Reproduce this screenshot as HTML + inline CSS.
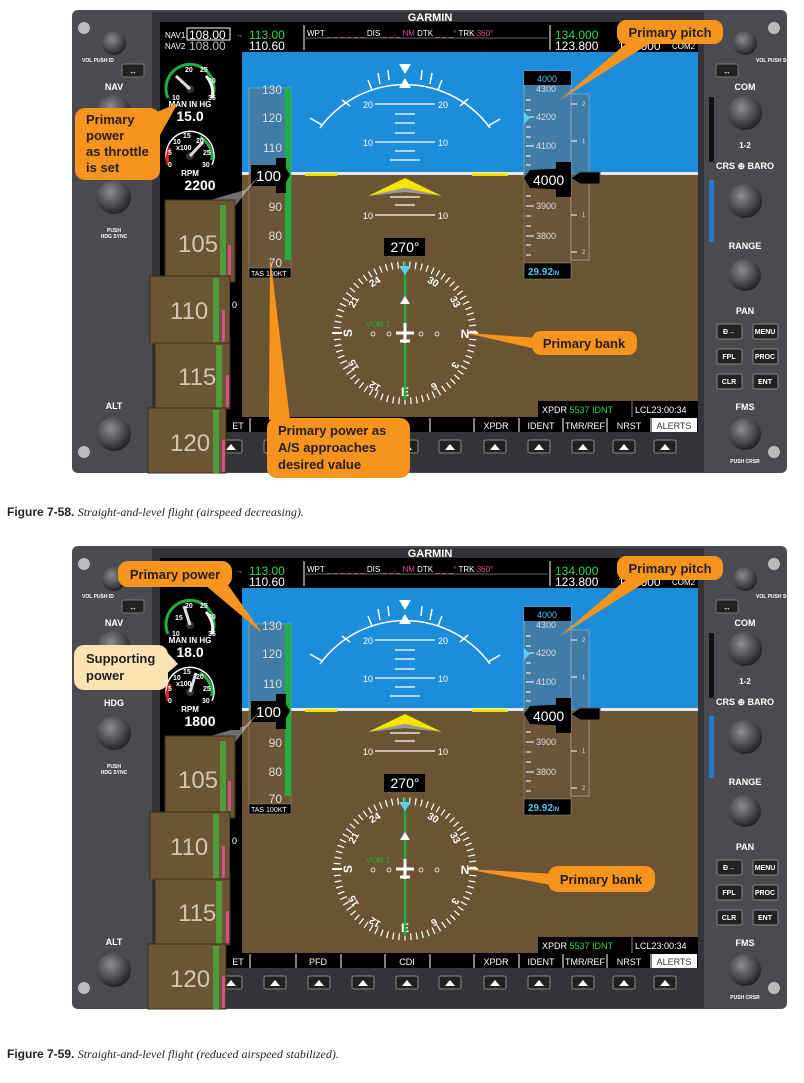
<!DOCTYPE html>
<html><head><meta charset="utf-8"><style>
body{margin:0;background:#fff;width:804px;height:1083px;overflow:hidden}
svg{display:block}
text{font-family:"Liberation Sans",sans-serif}
.lb{font-weight:bold;fill:#fff}
.co{font-size:13px;font-weight:bold;fill:#231f20}
.cap{font-size:12px;fill:#231f20}
</style></head><body>
<svg width="804" height="1083" viewBox="0 0 804 1083">
<defs>
<radialGradient id="kn" cx="40%" cy="35%" r="70%"><stop offset="0" stop-color="#8a8c90"/><stop offset="1" stop-color="#1c1d1f"/></radialGradient>
</defs>

<!-- PANEL 1 -->
<g id="p1">
<rect x="72" y="10" width="715" height="463" rx="6" fill="#4a4b4e"/>
<rect x="152" y="12" width="552" height="460" fill="#333437"/>
<rect x="160" y="22" width="538" height="410" fill="#000"/>
<text x="430" y="21" font-size="11" font-weight="bold" fill="#fff" text-anchor="middle">GARMIN</text>
<text x="165" y="38" font-size="8" fill="#fff">NAV1</text><rect x="187" y="28" width="43" height="12" fill="none" stroke="#fff" stroke-width="1"/><text x="189" y="39" font-size="12" fill="#fff">108.00</text>
<text x="165" y="49" font-size="8" fill="#fff">NAV2</text><text x="189" y="50" font-size="12" fill="#bbb">108.00</text>
<text x="236" y="37" font-size="7" fill="#4fc3f7">↔</text>
<text x="249" y="39" font-size="12" fill="#2bd35a">113.00</text><text x="249" y="50" font-size="12" fill="#fff">110.60</text>
<line x1="304" y1="25" x2="304" y2="50" stroke="#fff"/><line x1="304" y1="38" x2="548" y2="38" stroke="#666"/>
<text x="307" y="36" font-size="8" fill="#fff">WPT <tspan fill="#e0489a">_ _ _ _ _ _</tspan> DIS <tspan fill="#e0489a">_ _._ NM</tspan>   DTK <tspan fill="#e0489a">_ _ _°</tspan>   TRK  <tspan fill="#e0489a">360°</tspan></text>
<line x1="550" y1="25" x2="550" y2="50" stroke="#fff"/>
<text x="555" y="39" font-size="12" fill="#2bd35a">134.000</text><text x="555" y="50" font-size="12" fill="#fff">123.800</text>
<text x="618" y="50" font-size="12" fill="#fff">118.000</text><text x="672" y="49" font-size="8" fill="#fff">COM2</text>
<rect x="242" y="52" width="456" height="122" fill="#1b8ddb"/>
<rect x="242" y="174" width="456" height="243" fill="#6b5433"/>
<rect x="242" y="172" width="456" height="3" fill="#e8e8e8"/>
<path d="M320 128 A105 105 0 0 1 490 128" fill="none" stroke="#fff" stroke-width="1.5"/>
<path d="M310 118 L322 125 M488 126 L500 119 M342 100 L350 106 M460 106 L468 99 M368 80 L372 90 M438 90 L442 80 M378 73 L380 84 M430 84 L432 73 M388 70 L389 80 M421 80 L422 70" stroke="#fff" stroke-width="1.5"/>
<polygon points="399,64 411,64 405,74" fill="#fff"/><polygon points="399,88 411,88 405,78" fill="#fff"/>
<g stroke="#fff" stroke-width="1.2">
<line x1="375" y1="104" x2="435" y2="104"/><line x1="395" y1="114" x2="415" y2="114"/><line x1="395" y1="123" x2="415" y2="123"/><line x1="395" y1="133" x2="415" y2="133"/>
<line x1="375" y1="142" x2="435" y2="142"/><line x1="395" y1="151" x2="415" y2="151"/><line x1="390" y1="160" x2="420" y2="160"/>
<line x1="390" y1="197" x2="420" y2="197"/><line x1="395" y1="205" x2="415" y2="205"/><line x1="375" y1="215" x2="435" y2="215"/></g>
<text x="363" y="108" font-size="9" fill="#fff">20</text><text x="438" y="108" font-size="9" fill="#fff">20</text>
<text x="363" y="146" font-size="9" fill="#fff">10</text><text x="438" y="146" font-size="9" fill="#fff">10</text>
<text x="363" y="219" font-size="9" fill="#fff">10</text><text x="438" y="219" font-size="9" fill="#fff">10</text>
<polygon points="368,196 405,178 442,196 405,188" fill="#f4e400"/><polygon points="368,196 405,188 442,196 405,192" fill="#999"/>
<rect x="305" y="173" width="32" height="3" fill="#f4e400"/><rect x="472" y="173" width="36" height="3" fill="#f4e400"/>
<rect x="249" y="88" width="42" height="86" fill="#3f7ca6" stroke="#8aa" stroke-width="0.8"/>
<rect x="249" y="174" width="42" height="94" fill="#6a5538" stroke="#8a7a60" stroke-width="0.8"/>
<rect x="285" y="88" width="6" height="172" fill="#1fb040"/>
<g font-size="12" fill="#ddd" text-anchor="end"><text x="282" y="94">130</text><text x="282" y="122">120</text><text x="282" y="152">110</text><text x="282" y="211">90</text><text x="282" y="240">80</text><text x="282" y="267">70</text></g>
<rect x="251" y="165" width="33" height="21" fill="#000"/><polygon points="284,165 290,175 284,186" fill="#000"/><rect x="276" y="158" width="10" height="35" fill="#000"/>
<text x="256" y="181" font-size="15" fill="#fff">100</text>
<rect x="249" y="268" width="42" height="10" fill="#000" stroke="#888" stroke-width="0.5"/><text x="251" y="276" font-size="7" fill="#fff">TAS  100KT</text>
<rect x="160" y="52" width="82" height="148" fill="#000"/>
<path d="M168 98 A24 24 0 1 1 212 98" fill="none" stroke="#1fb040" stroke-width="3"/>
<path d="M206 76 A24 24 0 0 1 212 98" fill="none" stroke="#fff" stroke-width="3"/>
<circle cx="190" cy="89" r="4" fill="#333"/><line x1="190" y1="89" x2="176" y2="76" stroke="#ddd" stroke-width="3"/>
<g font-size="7" font-weight="bold" fill="#fff"><text x="185" y="72">20</text><text x="200" y="72">25</text><text x="208" y="83">30</text><text x="208" y="100">35</text><text x="172" y="100">10</text></g>
<text x="190" y="107" font-size="8" font-weight="bold" fill="#fff" text-anchor="middle">MAN IN HG</text>
<text x="190" y="121" font-size="14" font-weight="bold" fill="#fff" text-anchor="middle">15.0</text>
<path d="M168 165 A24 24 0 1 1 212 165" fill="none" stroke="#fff" stroke-width="1.5"/>
<path d="M168 165 A24 24 0 0 1 170 148" fill="none" stroke="#e02020" stroke-width="3"/>
<path d="M200 137 A24 24 0 0 1 212 160" fill="none" stroke="#1fb040" stroke-width="3"/>
<circle cx="190" cy="156" r="4" fill="#333"/><line x1="190" y1="156" x2="203" y2="142" stroke="#ddd" stroke-width="3"/>
<g font-size="7" font-weight="bold" fill="#fff"><text x="183" y="138">15</text><text x="173" y="144">10</text><text x="196" y="143">20</text><text x="203" y="155">25</text><text x="168" y="155">5</text><text x="176" y="150">x100</text><text x="168" y="167">0</text><text x="202" y="167">30</text></g>
<text x="190" y="176" font-size="8" font-weight="bold" fill="#fff" text-anchor="middle">RPM</text>
<text x="200" y="190" font-size="14" font-weight="bold" fill="#fff" text-anchor="middle">2200</text>
<text x="175" y="205" font-size="7" font-weight="bold" fill="#fff">FUEL QTY GAL</text>
<polygon points="210,200 245,190 260,175 240,200 232,210" fill="#ddd" opacity="0.5"/>
<rect x="524" y="71" width="47" height="103" fill="#3f7ca6" stroke="#8ab" stroke-width="0.8"/>
<rect x="524" y="174" width="47" height="104" fill="#6a5538" stroke="#8a7a60" stroke-width="0.8"/>
<rect x="571" y="94" width="18" height="166" fill="#3f7ca6" stroke="#aab" stroke-width="0.6"/>
<rect x="571" y="174" width="18" height="86" fill="#6a5538" stroke="#aa9" stroke-width="0.6"/>
<g stroke="#fff" stroke-width="1"><path d="M526 100h5M526 110h5M526 127h5M526 137h5M526 156h5M526 165h5M526 196h5M526 216h5M526 226h5M526 245h5M526 255h5"/><path d="M526 117h8M526 146h8M526 206h8M526 236h8"/><path d="M571 104h6M571 141h6M571 215h6M571 252h6"/></g>
<g font-size="9" fill="#ddd"><text x="536" y="92">4300</text><text x="536" y="120">4200</text><text x="536" y="149">4100</text><text x="536" y="209">3900</text><text x="536" y="239">3800</text></g>
<g font-size="6" fill="#ddd"><text x="582" y="106">2</text><text x="582" y="143">1</text><text x="582" y="217">1</text><text x="582" y="254">2</text></g>
<polygon points="530,118 524,112 524,124" fill="#5bd0f0"/>
<rect x="524" y="71" width="47" height="14" fill="#000"/><text x="547" y="82" font-size="9" fill="#4fc3f7" text-anchor="middle">4000</text>
<polygon points="524,178 530,170 571,168 571,190 530,188" fill="#000"/><rect x="556" y="162" width="15" height="35" fill="#000"/>
<text x="533" y="185" font-size="14" fill="#fff">4000</text>
<polygon points="571,178 580,172 600,172 600,184 580,184" fill="#000" stroke="#555"/>
<rect x="524" y="263" width="47" height="16" fill="#000" stroke="#888" stroke-width="0.6"/><text x="528" y="275" font-size="10" font-weight="bold" fill="#4fc3f7">29.92<tspan font-size="6">IN</tspan></text>
<circle cx="405" cy="333" r="68" fill="none" stroke="#fff" stroke-width="7" stroke-dasharray="1.2 4.7"/>
<g font-size="12" font-weight="bold" fill="#fff" text-anchor="middle"><text x="465" y="338">N</text><text x="347" y="338" transform="rotate(-90 347 333)">S</text><text x="405" y="396">E</text>
<text x="375" y="285" font-size="10" transform="rotate(-30 375 282)">24</text><text x="433" y="285" font-size="10" transform="rotate(30 433 282)">30</text><text x="455" y="305" font-size="10" transform="rotate(60 455 302)">33</text>
<text x="455" y="368" font-size="10" transform="rotate(120 455 365)">3</text><text x="434" y="389" font-size="10" transform="rotate(150 434 386)">6</text><text x="375" y="389" font-size="10" transform="rotate(-150 375 386)">12</text><text x="354" y="368" font-size="10" transform="rotate(-120 354 365)">15</text><text x="354" y="305" font-size="10" transform="rotate(-60 354 302)">21</text></g>
<line x1="332" y1="333" x2="342" y2="333" stroke="#fff" stroke-width="2"/><line x1="468" y1="333" x2="478" y2="333" stroke="#fff" stroke-width="2"/>
<line x1="405" y1="262" x2="405" y2="400" stroke="#1fb040" stroke-width="2.5"/>
<polygon points="399,266 411,266 405,275" fill="#5bd0f0"/>
<text x="366" y="327" font-size="8" fill="#1fb040">VOR 1</text>
<g fill="none" stroke="#ddd"><circle cx="373" cy="334" r="2"/><circle cx="389" cy="334" r="2"/><circle cx="421" cy="334" r="2"/><circle cx="437" cy="334" r="2"/></g>
<path d="M405 323 v20 M396 333 h18 M400 341 h10" stroke="#fff" stroke-width="3"/>
<polygon points="400,304 410,304 405,296" fill="#fff"/>
<rect x="384" y="238" width="41" height="18" fill="#000"/><text x="405" y="252" font-size="14" fill="#fff" text-anchor="middle">270°</text>
<rect x="538" y="401" width="160" height="16" fill="#000"/><line x1="632" y1="401" x2="632" y2="417" stroke="#888"/>
<text x="542" y="413" font-size="9" fill="#fff">XPDR  <tspan fill="#2bd35a">5537  IDNT</tspan></text><text x="635" y="413" font-size="9" fill="#fff">LCL23:00:34</text>
<rect x="160" y="417" width="538" height="15" fill="#000"/>
<g stroke="#fff" stroke-width="1"><path d="M250 418v14M296 418v14M341 418v14M385 418v14M430 418v14M474 418v14M519 418v14M563 418v14M607 418v14M651 418v14"/></g>
<rect x="652" y="418" width="45" height="14" fill="#fff"/>
<g font-size="9" fill="#fff" text-anchor="middle"><text x="238" y="429">ET</text><text x="400" y="429">DI</text><text x="496" y="429">XPDR</text><text x="541" y="429">IDENT</text><text x="585" y="429">TMR/REF</text><text x="629" y="429">NRST</text><text x="674" y="429" fill="#333">ALERTS</text></g>
<g fill="#222" stroke="#888"><rect x="220" y="440" width="22" height="13" rx="2"/><rect x="264" y="440" width="22" height="13" rx="2"/><rect x="308" y="440" width="22" height="13" rx="2"/><rect x="352" y="440" width="22" height="13" rx="2"/><rect x="396" y="440" width="22" height="13" rx="2"/><rect x="439" y="440" width="22" height="13" rx="2"/><rect x="484" y="440" width="22" height="13" rx="2"/><rect x="528" y="440" width="22" height="13" rx="2"/><rect x="572" y="440" width="22" height="13" rx="2"/><rect x="613" y="440" width="22" height="13" rx="2"/><rect x="654" y="440" width="22" height="13" rx="2"/></g>
<g fill="#fff"><path d="M226 450l5-6 5 6zM270 450l5-6 5 6zM314 450l5-6 5 6zM358 450l5-6 5 6zM402 450l5-6 5 6zM445 450l5-6 5 6zM490 450l5-6 5 6zM534 450l5-6 5 6zM578 450l5-6 5 6zM619 450l5-6 5 6zM660 450l5-6 5 6z"/></g>
<!-- left bezel -->
<circle cx="84" cy="28" r="6" fill="#bbb"/><circle cx="84" cy="452" r="6" fill="#bbb"/>
<circle cx="114" cy="43" r="12" fill="url(#kn)"/><text x="82" y="62" class="lb" font-size="5">VOL PUSH ID</text>
<rect x="122" y="64" width="22" height="13" rx="2" fill="#222" stroke="#777"/><text x="133" y="74" font-size="8" fill="#fff" text-anchor="middle">↔</text>
<text x="114" y="90" class="lb" font-size="9" text-anchor="middle">NAV</text>
<circle cx="114" cy="112" r="17" fill="url(#kn)"/>
<circle cx="114" cy="197" r="17" fill="url(#kn)"/><text x="114" y="232" class="lb" font-size="5" text-anchor="middle">PUSH</text><text x="114" y="238" class="lb" font-size="5" text-anchor="middle">HDG SYNC</text>
<text x="114" y="409" class="lb" font-size="9" text-anchor="middle">ALT</text>
<circle cx="114" cy="434" r="17" fill="url(#kn)"/>
<!-- right bezel -->
<circle cx="774" cy="28" r="6" fill="#bbb"/><circle cx="774" cy="452" r="6" fill="#bbb"/>
<circle cx="745" cy="43" r="12" fill="url(#kn)"/><text x="756" y="62" class="lb" font-size="5">VOL PUSH SQ</text>
<rect x="716" y="64" width="22" height="13" rx="2" fill="#222" stroke="#777"/><text x="727" y="74" font-size="8" fill="#fff" text-anchor="middle">↔</text>
<text x="745" y="90" class="lb" font-size="9" text-anchor="middle">COM</text>
<rect x="709" y="97" width="5" height="65" fill="#111"/>
<circle cx="745" cy="113" r="17" fill="url(#kn)"/><text x="745" y="148" class="lb" font-size="8" text-anchor="middle">1-2</text>
<text x="745" y="169" class="lb" font-size="9" text-anchor="middle">CRS ⊕ BARO</text>
<rect x="709" y="180" width="5" height="62" fill="#2979c8"/>
<circle cx="745" cy="201" r="17" fill="url(#kn)"/>
<text x="745" y="249" class="lb" font-size="9" text-anchor="middle">RANGE</text>
<circle cx="745" cy="275" r="16" fill="url(#kn)"/>
<text x="745" y="314" class="lb" font-size="9" text-anchor="middle">PAN</text>
<g fill="#222" stroke="#888"><rect x="717" y="324" width="25" height="15" rx="2"/><rect x="753" y="324" width="25" height="15" rx="2"/><rect x="717" y="349" width="25" height="15" rx="2"/><rect x="753" y="349" width="25" height="15" rx="2"/><rect x="717" y="374" width="25" height="15" rx="2"/><rect x="753" y="374" width="25" height="15" rx="2"/></g>
<g font-size="7" font-weight="bold" fill="#fff" text-anchor="middle"><text x="729" y="334">Đ→</text><text x="765" y="334">MENU</text><text x="729" y="359">FPL</text><text x="765" y="359">PROC</text><text x="729" y="384">CLR</text><text x="765" y="384">ENT</text></g>
<text x="745" y="410" class="lb" font-size="9" text-anchor="middle">FMS</text>
<circle cx="745" cy="434" r="16" fill="url(#kn)"/><text x="745" y="463" class="lb" font-size="5" text-anchor="middle">PUSH CRSR</text>
<!-- brown overlay strips -->
<g font-size="24" fill="#cfc7b6">
<rect x="165" y="200" width="70" height="82" fill="#6b5634" stroke="#3a2e1a"/><rect x="220" y="205" width="6" height="75" fill="#4f9a3a"/><rect x="228" y="245" width="3" height="30" fill="#d24f8a"/><text x="178" y="252">105</text>
<rect x="150" y="276" width="80" height="68" fill="#6b5634" stroke="#3a2e1a"/><rect x="213" y="278" width="6" height="65" fill="#4f9a3a"/><rect x="222" y="310" width="3" height="32" fill="#d24f8a"/><text x="170" y="319">110</text>
<rect x="155" y="343" width="75" height="66" fill="#6b5634" stroke="#3a2e1a"/><rect x="216" y="345" width="6" height="63" fill="#4f9a3a"/><rect x="226" y="375" width="3" height="32" fill="#d24f8a"/><text x="178" y="385">115</text>
<rect x="148" y="408" width="78" height="65" fill="#6b5634" stroke="#3a2e1a"/><rect x="213" y="410" width="6" height="63" fill="#4f9a3a"/><rect x="222" y="440" width="3" height="32" fill="#d24f8a"/><text x="170" y="451">120</text>
</g>
<rect x="230" y="283" width="8" height="55" fill="#000"/><text x="232" y="308" font-size="9" fill="#fff">0</text>
<path d="M628 42 L560 100 L652 42 Z" fill="#f7941d"/>
<rect x="617" y="20" width="106" height="24" rx="9" fill="#f7941d"/>
<text x="670" y="37" class="co" text-anchor="middle">Primary pitch</text>
</g>
<!-- panel1 specific callouts -->
<path d="M540 338 L466 333 L540 350 Z" fill="#f7941d"/>
<rect x="532" y="331" width="105" height="24" rx="9" fill="#f7941d"/>
<text x="584" y="348" class="co" text-anchor="middle">Primary bank</text>
<path d="M150 115 L178 103 L160 135 Z" fill="#f7941d"/>
<rect x="75" y="108" width="85" height="72" rx="10" fill="#f7941d"/>
<text x="86" y="124" class="co">Primary</text><text x="86" y="140" class="co">power</text><text x="86" y="156" class="co">as throttle</text><text x="86" y="172" class="co">is set</text>
<path d="M269 420 L270 255 L290 420 Z" fill="#f7941d"/>
<rect x="267" y="418" width="143" height="60" rx="10" fill="#f7941d"/>
<text x="278" y="435" class="co">Primary power as</text><text x="278" y="452" class="co">A/S approaches</text><text x="278" y="469" class="co">desired value</text>
<text x="7" y="516" class="cap"><tspan font-weight="bold">Figure 7-58.</tspan> <tspan font-family="Liberation Serif" font-style="italic">Straight-and-level flight (airspeed decreasing).</tspan></text>

<!-- PANEL 2 -->
<use href="#p1" transform="translate(0,536)"/>
<rect x="160" y="558" width="140" height="30" fill="#000"/>
<text x="236" y="573" font-size="7" fill="#4fc3f7">↔</text>
<text x="249" y="575" font-size="12" fill="#2bd35a">113.00</text><text x="249" y="586" font-size="12" fill="#fff">110.60</text>
<rect x="162" y="590" width="78" height="140" fill="#000"/>
<path d="M168 634 A24 24 0 1 1 212 634" fill="none" stroke="#1fb040" stroke-width="3"/>
<path d="M206 612 A24 24 0 0 1 212 634" fill="none" stroke="#fff" stroke-width="3"/>
<circle cx="190" cy="625" r="4" fill="#333"/><line x1="190" y1="625" x2="184" y2="606" stroke="#ddd" stroke-width="3"/>
<g font-size="7" font-weight="bold" fill="#fff"><text x="185" y="608">20</text><text x="200" y="608">25</text><text x="208" y="619">30</text><text x="208" y="636">35</text><text x="172" y="636">10</text><text x="175" y="620">15</text></g>
<text x="190" y="643" font-size="8" font-weight="bold" fill="#fff" text-anchor="middle">MAN IN HG</text>
<text x="190" y="657" font-size="14" font-weight="bold" fill="#fff" text-anchor="middle">18.0</text>
<path d="M168 701 A24 24 0 1 1 212 701" fill="none" stroke="#fff" stroke-width="1.5"/>
<path d="M168 701 A24 24 0 0 1 170 684" fill="none" stroke="#e02020" stroke-width="3"/>
<path d="M200 673 A24 24 0 0 1 212 696" fill="none" stroke="#1fb040" stroke-width="3"/>
<circle cx="190" cy="692" r="4" fill="#333"/><line x1="190" y1="692" x2="196" y2="673" stroke="#ddd" stroke-width="3"/>
<g font-size="7" font-weight="bold" fill="#fff"><text x="183" y="674">15</text><text x="173" y="680">10</text><text x="196" y="679">20</text><text x="203" y="691">25</text><text x="168" y="691">5</text><text x="176" y="686">x100</text><text x="168" y="703">0</text><text x="202" y="703">30</text></g>
<text x="190" y="712" font-size="8" font-weight="bold" fill="#fff" text-anchor="middle">RPM</text>
<text x="200" y="726" font-size="14" font-weight="bold" fill="#fff" text-anchor="middle">1800</text>
<text x="114" y="706" class="lb" font-size="9" text-anchor="middle">HDG</text>
<rect x="297" y="954" width="43" height="13" fill="#000"/><rect x="386" y="954" width="43" height="13" fill="#000"/>
<text x="318" y="965" font-size="9" fill="#fff" text-anchor="middle">PFD</text><text x="407" y="965" font-size="9" fill="#fff" text-anchor="middle">CDI</text>
<path d="M205 585 L262 633 L228 585 Z" fill="#f7941d"/>
<rect x="118" y="561" width="114" height="26" rx="10" fill="#f7941d"/>
<text x="175" y="579" class="co" text-anchor="middle">Primary power</text>
<path d="M165 650 L178 664 L165 675 Z" fill="#fde3b4"/>
<rect x="74" y="645" width="94" height="45" rx="10" fill="#fde3b4"/>
<text x="86" y="663" class="co">Supporting</text><text x="86" y="680" class="co">power</text>
<path d="M556 874 L466 869 L556 886 Z" fill="#f7941d"/>
<rect x="548" y="866" width="107" height="26" rx="10" fill="#f7941d"/>
<text x="601" y="884" class="co" text-anchor="middle">Primary bank</text>
<text x="7" y="1058" class="cap"><tspan font-weight="bold">Figure 7-59.</tspan> <tspan font-family="Liberation Serif" font-style="italic">Straight-and-level flight (reduced airspeed stabilized).</tspan></text>
</svg>
</body></html>
